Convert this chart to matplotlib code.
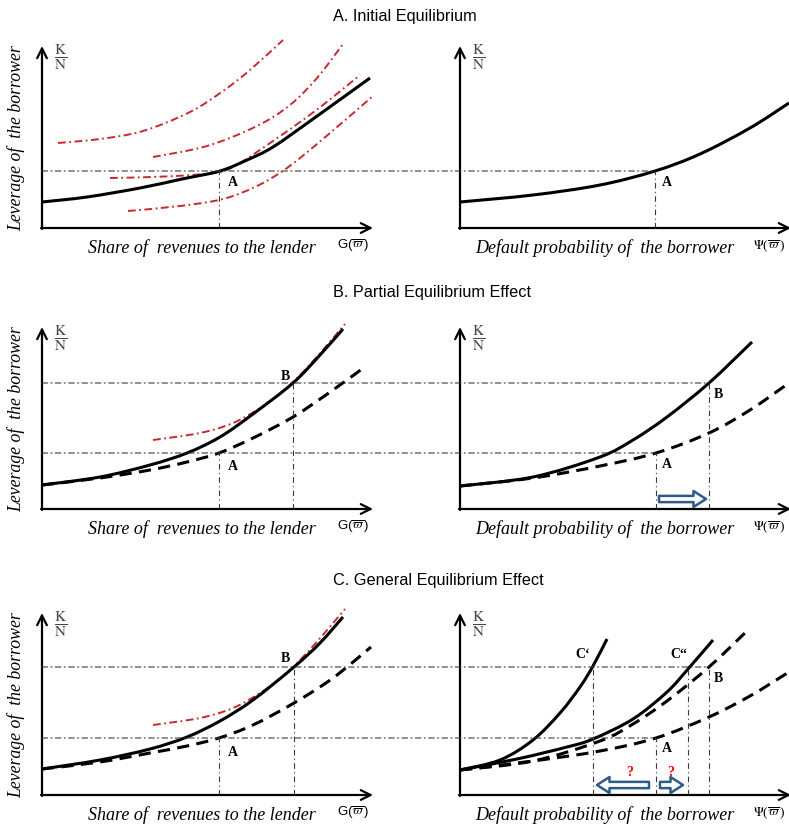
"""
Diagrama conceitual: alavancagem do tomador vs. partilha de receitas / prob. de default.
Tres linhas (A, B, C), cada uma com um painel esquerdo e um direito.
"""

import numpy as np
import matplotlib
matplotlib.use("Agg")
import matplotlib.pyplot as plt
from matplotlib.patches import ConnectionPatch, PathPatch
from matplotlib.path import Path

plt.rcParams["mathtext.fontset"] = "stix"

W, H = 789, 831
X_MAX, Y_MAX = 330, 181

RED = "#c62a2f"
GUIDE = "#3a3a3a"
BLUE = "#2f5b8a"

# ── Dados: curvas (x, y) ──────────────────────────────────────────────────────
# Linha A
A_LEFT_SOLID = ([0, 45, 98, 140, 178, 205, 231, 271, 328], [26, 31, 40, 49, 57, 68, 81, 109, 150])
A_LEFT_RED_1 = ([16, 58, 101, 148, 181, 208, 241], [85, 89, 97, 116, 137, 158, 188])
A_LEFT_RED_2 = ([111, 165, 215, 248, 275, 301], [71, 82, 102, 123, 150, 184])
A_LEFT_RED_3 = ([68, 110, 150, 178, 198, 231, 265, 291, 318], [50, 51, 53, 56, 65, 87, 111, 131, 153])
A_LEFT_RED_4 = ([86, 138, 181, 215, 245, 281, 331], [17, 22, 29, 42, 60, 89, 132])
A_RIGHT_SOLID = ([0, 73, 140, 195, 240, 290, 329], [26, 33, 43, 57, 74, 100, 125])

# Linha B
B_LEFT_SOLID = ([0, 58, 108, 145, 178, 211, 251, 278, 301], [24, 32, 44, 56, 72, 95, 126, 154, 180])
B_LEFT_DASH = ([0, 58, 108, 145, 177, 211, 251, 291, 324], [24, 31, 39, 47, 56, 71, 92, 119, 143])
B_LEFT_RED = ([111, 158, 191, 218, 240, 260, 280, 303], [69, 76, 86, 101, 117, 136, 158, 185])
B_RIGHT_SOLID = ([0, 73, 140, 173, 207, 249, 292], [23, 32, 52, 69, 92, 126, 167])
B_RIGHT_DASH = ([0, 73, 140, 196, 249, 290, 329], [23, 31, 43, 56, 76, 99, 126])

# Linha C
C_LEFT_SOLID = ([0, 58, 108, 145, 178, 211, 252, 278, 301], [26, 35, 46, 58, 74, 95, 128, 152, 178])
C_LEFT_DASH = ([0, 58, 108, 145, 177, 211, 252, 291, 329], [26, 33, 42, 49, 57, 70, 92, 117, 148])
C_LEFT_RED = ([111, 158, 191, 218, 240, 260, 280, 303], [70, 77, 87, 102, 118, 137, 159, 186])
C_RIGHT_C1 = ([0, 40, 73, 100, 120, 133, 147], [25, 35, 55, 82, 108, 129, 156])
C_RIGHT_C2 = ([0, 57, 107, 133, 173, 207, 228, 253], [25, 36, 48, 56, 76, 103, 126, 155])
C_RIGHT_DASH_B = ([0, 73, 140, 173, 207, 249, 288], [25, 34, 54, 71, 94, 128, 165])
C_RIGHT_DASH_A = ([0, 73, 140, 196, 249, 290, 329], [25, 34, 44, 57, 78, 99, 123])

# niveis de equilibrio (y) e posicoes (x) dos pontos
LEVEL_A = [57, 56, 57]
LEVEL_B = [None, 126, 128]
X_LEFT_A, X_LEFT_B = 177, 251
X_RIGHT_A, X_RIGHT_B = 196, 249
X_RIGHT_C1, X_RIGHT_C2 = 133, 228

TITLES = ["A. Initial Equilibrium", "B. Partial Equilibrium Effect", "C. General Equilibrium Effect"]
TITLE_Y = [16, 293, 580]
ROW_BASE = [228, 509, 795]


# ── Helpers ───────────────────────────────────────────────────────────────────
def make_panel(fig, col, row):
    x0 = 42 if col == 0 else 460
    ax = fig.add_axes([x0 / W, 1 - ROW_BASE[row] / H, X_MAX / W, Y_MAX / H])
    ax.set_xlim(0, X_MAX)
    ax.set_ylim(0, Y_MAX)
    ax.axis("off")
    arrow = dict(arrowstyle="->,head_length=0.7,head_width=0.35", lw=1.6,
                 color="black", shrinkA=0, shrinkB=0)
    ax.annotate("", xy=(X_MAX + 1, 0), xytext=(-1, 0), arrowprops=arrow, annotation_clip=False)
    ax.annotate("", xy=(0, Y_MAX + 1), xytext=(0, -1), arrowprops=arrow, annotation_clip=False)
    ax.text(19, 170, r"$\dfrac{\mathrm{K}}{\mathrm{N}}$", fontsize=11, color="#444444",
            ha="center", va="center")
    if col == 0:
        ax.text(160, -20, "Share of  revenues to the lender", family="Liberation Serif",
                style="italic", fontsize=13, ha="center", va="center")
        ax.text(311, -18, r"G($\overline{\varpi}\,$)", family="Liberation Sans", fontsize=9.5,
                ha="center", va="center")
        ax.text(-26, 90, "Leverage of  the borrower", family="Liberation Serif",
                style="italic", fontsize=12.8, rotation=90, ha="center", va="center")
    else:
        ax.text(145, -20, "Default probability of  the borrower", family="Liberation Serif",
                style="italic", fontsize=13, ha="center", va="center")
        ax.text(309, -18, r"$\Psi$($\overline{\varpi}\,$)", family="Liberation Serif", fontsize=9.5,
                ha="center", va="center")
    return ax


def curve_path(curve):
    """Caminho suave (Bezier) passando pelos pontos lidos."""
    pts = np.column_stack(curve).astype(float)
    verts, codes = [pts[0]], [Path.MOVETO]
    n = len(pts)
    for i in range(n - 1):
        p0 = pts[max(i - 1, 0)]
        p1, p2 = pts[i], pts[i + 1]
        p3 = pts[min(i + 2, n - 1)]
        verts += [p1 + (p2 - p0) / 6, p2 - (p3 - p1) / 6, p2]
        codes += [Path.CURVE4] * 3
    return Path(verts, codes)


def draw_curve(ax, curve, **kw):
    ax.add_patch(PathPatch(curve_path(curve), fill=False, clip_on=False,
                           capstyle="butt", joinstyle="round", **kw))


def solid(ax, curve):
    draw_curve(ax, curve, edgecolor="black", lw=2.2)


def dashed(ax, curve):
    draw_curve(ax, curve, edgecolor="black", lw=2.2, ls=(0, (4, 2.4)))


def red(ax, curve):
    draw_curve(ax, curve, edgecolor=RED, lw=1.4, ls=(0, (4, 1.8, 0.9, 1.8)))


def vguide(ax, x, y):
    ax.plot([x, x], [0, y], color=GUIDE, lw=0.8, ls=(0, (5, 3, 1, 3)))


def hguide(fig, ax_left, ax_right, y, x_end):
    con = ConnectionPatch(xyA=(0, y), coordsA="data", axesA=ax_left,
                          xyB=(x_end, y), coordsB="data", axesB=ax_right,
                          color=GUIDE, lw=0.8, ls=(0, (5, 3, 1, 3)))
    fig.add_artist(con)


def point_label(ax, x, y, s):
    ax.text(x, y, s, family="Liberation Serif", fontweight="bold", fontsize=10,
            ha="center", va="center")


def hollow_arrow(ax, x_from, x_to, y):
    ax.annotate("", xy=(x_to, y), xytext=(x_from, y), annotation_clip=False,
                arrowprops=dict(arrowstyle="simple,head_length=0.9,head_width=1.15,tail_width=0.45",
                                mutation_scale=10, fc="white", ec=BLUE, lw=1.8,
                                shrinkA=0, shrinkB=0))


# ── Figura ────────────────────────────────────────────────────────────────────
fig = plt.figure(figsize=(W / 100, H / 100), dpi=100)
for row, title in enumerate(TITLES):
    fig.text(333 / W, 1 - TITLE_Y[row] / H, title, family="Liberation Sans",
             fontsize=11.7, ha="left", va="center")

axes = [[make_panel(fig, col, row) for col in range(2)] for row in range(3)]

# Linha A
axL, axR = axes[0]
for c in (A_LEFT_RED_1, A_LEFT_RED_2, A_LEFT_RED_3, A_LEFT_RED_4):
    red(axL, c)
solid(axL, A_LEFT_SOLID)
solid(axR, A_RIGHT_SOLID)
vguide(axL, X_LEFT_A, LEVEL_A[0])
vguide(axR, X_RIGHT_A - 1, LEVEL_A[0])
hguide(fig, axL, axR, LEVEL_A[0], X_RIGHT_A - 1)
point_label(axL, 191, 45, "A")
point_label(axR, 207, 45, "A")

# Linha B
axL, axR = axes[1]
red(axL, B_LEFT_RED)
dashed(axL, B_LEFT_DASH)
solid(axL, B_LEFT_SOLID)
dashed(axR, B_RIGHT_DASH)
solid(axR, B_RIGHT_SOLID)
vguide(axL, X_LEFT_A, LEVEL_A[1])
vguide(axL, X_LEFT_B, LEVEL_B[1])
vguide(axR, X_RIGHT_A, LEVEL_A[1])
vguide(axR, X_RIGHT_B, LEVEL_B[1])
hguide(fig, axL, axR, LEVEL_A[1], X_RIGHT_A)
hguide(fig, axL, axR, LEVEL_B[1], X_RIGHT_B)
point_label(axL, 191, 43, "A")
point_label(axL, 243, 133, "B")
point_label(axR, 207, 44, "A")
point_label(axR, 258, 114, "B")
hollow_arrow(axR, 199, 246, 10)

# Linha C
axL, axR = axes[2]
red(axL, C_LEFT_RED)
dashed(axL, C_LEFT_DASH)
solid(axL, C_LEFT_SOLID)
dashed(axR, C_RIGHT_DASH_A)
dashed(axR, C_RIGHT_DASH_B)
solid(axR, C_RIGHT_C1)
solid(axR, C_RIGHT_C2)
vguide(axL, X_LEFT_A, LEVEL_A[2])
vguide(axL, X_LEFT_B + 1, LEVEL_B[2])
vguide(axR, X_RIGHT_C1, LEVEL_B[2])
vguide(axR, X_RIGHT_A, LEVEL_A[2])
vguide(axR, X_RIGHT_C2, LEVEL_B[2])
vguide(axR, X_RIGHT_B, LEVEL_B[2])
hguide(fig, axL, axR, LEVEL_A[2], X_RIGHT_A)
hguide(fig, axL, axR, LEVEL_B[2], X_RIGHT_B)
point_label(axL, 191, 43, "A")
point_label(axL, 243, 136, "B")
point_label(axR, 207, 46, "A")
point_label(axR, 258, 117, "B")
point_label(axR, 123, 141, "C\u2018")
point_label(axR, 219, 141, "C\u201c")
hollow_arrow(axR, 189, 137, 10)
hollow_arrow(axR, 200, 223, 10)
for qx in (170, 211):
    axR.text(qx, 23, "?", color="red", fontweight="bold", fontsize=10,
             family="Liberation Serif", ha="center", va="center")

plt.savefig("out.png", dpi=100)
plt.close()
